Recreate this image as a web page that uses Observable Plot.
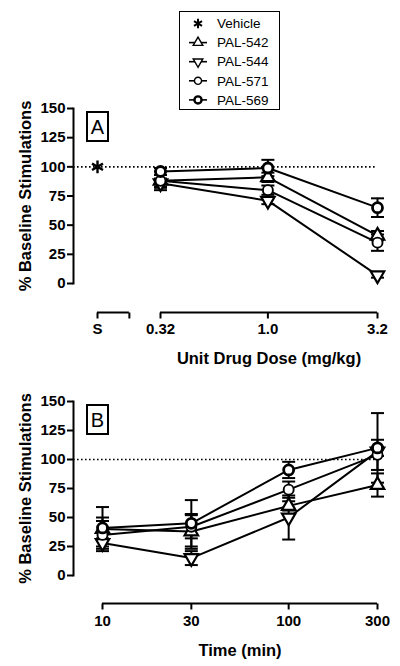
<!DOCTYPE html>
<html>
<head>
<meta charset="utf-8">
<script src="https://cdn.jsdelivr.net/npm/d3@7"></script>
<script src="https://cdn.jsdelivr.net/npm/@observablehq/plot@0.6"></script>
<style>
  body { margin: 0; background: #fff; }
  #wrap { position: relative; width: 400px; height: 666px; font-family: "Liberation Sans", Arial, sans-serif; color: #000; }
  #wrap > svg { position: absolute; left: 0; }
  .panel-label { position: absolute; left: 86px; width: 19px; height: 27px; border: 2px solid #000;
    font-size: 20px; line-height: 28px; text-align: center; background: #fff; }
  #legend { position: absolute; left: 179px; top: 11px; width: 99px; height: 97px; border: 1.5px solid #000; background: #fff; }
  #legend svg { display: block; }
</style>
</head>
<body>
<div id="wrap">
  <div id="legend"></div>
</div>
<script>
// ---------------- data ----------------
const seriesNames = ["PAL-542", "PAL-544", "PAL-571", "PAL-569"];
const yTicks = [0, 25, 50, 75, 100, 125, 150];
const yTitle = "% Baseline Stimulations";
const baseline = 100;

// Panel A: unit drug dose
const doses = [0.32, 1.0, 3.2];
const doseLabels = ["0.32", "1.0", "3.2"];
const vehicleLabel = "S";
const vehicleAxisPos = 0.164;     // where the "S" tick sits on the dose axis
const vehicleSegmentEnd = 0.23;   // end of the short "S" axis segment
const vehicleMean = 100;
const doseTitle = "Unit Drug Dose (mg/kg)";

const doseMean542 = [88, 91, 41];
const doseErr542  = [8, 4, 4];
const doseMean544 = [86, 71, 7];
const doseErr544  = [4, 3, 2];
const doseMean571 = [88, 80, 35];
const doseErr571  = [5, 4, 7];
const doseMean569 = [96, 99, 65];
const doseErr569  = [3, 7, 8];

// Panel B: time course
const times = [10, 30, 100, 300];
const timeLabels = ["10", "30", "100", "300"];
const timeTitle = "Time (min)";

const timeMean542 = [40, 38, 60, 78];
const timeErr542  = [19, 15, 4, 10];
const timeMean544 = [28, 15, 50, 107];
const timeErr544  = [3, 6, 19, 4];
const timeMean571 = [35, 42, 74, 104];
const timeErr571  = [12, 10, 7, 13];
const timeMean569 = [41, 45, 91, 110];
const timeErr569  = [9, 20, 7, 30];

// ---------------- styles ----------------
const seriesStyle = {
  "PAL-542": {symbol: "triangle", rotate: 0,   r: 5, sw: 2.2},
  "PAL-544": {symbol: "triangle", rotate: 180, r: 5, sw: 2.2},
  "PAL-571": {symbol: "circle",   rotate: 0,   r: 5, sw: 1.9},
  "PAL-569": {symbol: "circle",   rotate: 0,   r: 5, sw: 2.8}
};
const capSymbol = {draw(ctx, size) { const h = Math.sqrt(size / Math.PI); ctx.moveTo(-h, 0); ctx.lineTo(h, 0); }};
const tickDownSymbol = {draw(ctx, size) { const h = Math.sqrt(size / Math.PI); ctx.moveTo(0, 0); ctx.lineTo(0, h); }};
const FONT = '"Liberation Sans", Arial, sans-serif';

function rowsOf(xs, means, errs) {
  return xs.map((x, i) => ({x, v: means[i], e: errs[i]}));
}

const doseData = {
  "PAL-542": rowsOf(doses, doseMean542, doseErr542),
  "PAL-544": rowsOf(doses, doseMean544, doseErr544),
  "PAL-571": rowsOf(doses, doseMean571, doseErr571),
  "PAL-569": rowsOf(doses, doseMean569, doseErr569)
};
const timeData = {
  "PAL-542": rowsOf(times, timeMean542, timeErr542),
  "PAL-544": rowsOf(times, timeMean544, timeErr544),
  "PAL-571": rowsOf(times, timeMean571, timeErr571),
  "PAL-569": rowsOf(times, timeMean569, timeErr569)
};

function seriesMarks(data) {
  const marks = [];
  for (const name of seriesNames) {
    marks.push(Plot.line(data[name], {x: "x", y: "v", stroke: "black", strokeWidth: 2}));
  }
  for (const name of seriesNames) {
    const rows = data[name];
    marks.push(Plot.ruleX(rows, {x: "x", y1: d => d.v - d.e, y2: d => d.v + d.e, stroke: "black", strokeWidth: 2}));
    const caps = rows.flatMap(d => [{x: d.x, y: d.v - d.e}, {x: d.x, y: d.v + d.e}]);
    marks.push(Plot.dot(caps, {x: "x", y: "y", symbol: capSymbol, r: 6.5, stroke: "black", strokeWidth: 2, fill: "none"}));
  }
  for (const name of seriesNames) {
    const s = seriesStyle[name];
    marks.push(Plot.dot(data[name], {x: "x", y: "v", symbol: s.symbol, rotate: s.rotate, r: s.r,
      fill: "white", stroke: "black", strokeWidth: s.sw}));
  }
  return marks;
}

function panel({height, marginTop, marginBottom, xDomain, xRange, tickValues, tickLabels, tickMarks, segments, xTitle, axisOffset, data, extra = []}) {
  const labelOf = new Map(tickValues.map((t, i) => [t, tickLabels[i]]));
  const mid = Math.sqrt(xDomain[0] * xDomain[1]);
  return Plot.plot({
    width: 400, height, marginTop, marginBottom, marginLeft: 73, marginRight: 23,
    style: {fontFamily: FONT, background: "transparent", color: "black", overflow: "visible"},
    x: {type: "log", domain: xDomain, range: xRange},
    y: {domain: [0, 150]},
    marks: [
      Plot.ruleY([baseline], {stroke: "black", strokeWidth: 1.6, strokeDasharray: "1.6,2.4"}),
      Plot.frame({anchor: "left", stroke: "black", strokeWidth: 2}),
      Plot.axisY({ticks: yTicks, tickSize: 6, tickPadding: 2, strokeWidth: 2, fontSize: 15, fontWeight: "bold", label: null}),
      Plot.text([yTitle], {frameAnchor: "left", textAnchor: "middle", lineAnchor: "middle", rotate: -90, dx: -48, fontSize: 16.5, fontWeight: "bold"}),
      Plot.ruleY(segments, {x1: d => d[0], x2: d => d[1], y: 0, dy: axisOffset, stroke: "black", strokeWidth: 2}),
      Plot.dot(tickMarks, {x: d => d, y: 0, dy: axisOffset, symbol: tickDownSymbol, r: 6, stroke: "black", strokeWidth: 2, fill: "none"}),
      Plot.axisX({ticks: tickValues, tickFormat: d => labelOf.get(d), tickSize: 0, tickPadding: 40, fontSize: 15, fontWeight: "bold", label: null}),
      Plot.text([xTitle], {x: mid, frameAnchor: "bottom", textAnchor: "middle", lineAnchor: "middle", dy: 75, fontSize: 16.5, fontWeight: "bold"}),
      ...extra,
      ...seriesMarks(data)
    ]
  });
}

const wrap = document.getElementById("wrap");

// Panel A
const svgA = panel({
  height: 380, marginTop: 108, marginBottom: 97,
  xDomain: [doses[0], doses[doses.length - 1]], xRange: [160, 377],
  tickValues: [vehicleAxisPos, ...doses], tickLabels: [vehicleLabel, ...doseLabels],
  tickMarks: [vehicleAxisPos, vehicleSegmentEnd, ...doses],
  segments: [[vehicleAxisPos, vehicleSegmentEnd], [doses[0], doses[doses.length - 1]]],
  xTitle: doseTitle, axisOffset: 29, data: doseData,
  extra: [Plot.dot([vehicleMean], {x: vehicleAxisPos, y: d => d, symbol: "asterisk", r: 6, stroke: "black", strokeWidth: 2.4})]
});
svgA.style.top = "0px";
wrap.insertBefore(svgA, wrap.firstChild);

// Panel B
const svgB = panel({
  height: 286, marginTop: 21, marginBottom: 91,
  xDomain: [times[0], times[times.length - 1]], xRange: [102, 377],
  tickValues: times, tickLabels: timeLabels, tickMarks: times,
  segments: [[times[0], times[times.length - 1]]],
  xTitle: timeTitle, axisOffset: 28, data: timeData
});
svgB.style.top = "380px";
wrap.insertBefore(svgB, wrap.firstChild);

// Panel letters
for (const [letter, top] of [["A", 111], ["B", 404]]) {
  const d = document.createElement("div");
  d.className = "panel-label";
  d.style.top = top + "px";
  d.textContent = letter;
  wrap.appendChild(d);
}

// Legend
const legendRows = [
  {name: "Vehicle", type: d3.symbolAsterisk, rot: 0, sw: 2, line: false, size: 60},
  {name: "PAL-542", type: d3.symbolTriangle, rot: 0, sw: 1.4, line: true, size: 40},
  {name: "PAL-544", type: d3.symbolTriangle, rot: 180, sw: 1.4, line: true, size: 40},
  {name: "PAL-571", type: d3.symbolCircle, rot: 0, sw: 1.4, line: true, size: 40},
  {name: "PAL-569", type: d3.symbolCircle, rot: 0, sw: 2.4, line: true, size: 40}
];
const lg = d3.select("#legend").append("svg").attr("width", 99).attr("height", 97);
legendRows.forEach((r, i) => {
  const y = 11.5 + i * 19.1;
  const g = lg.append("g").attr("transform", `translate(0,${y})`);
  if (r.line) g.append("line").attr("x1", 9).attr("x2", 27).attr("stroke", "black").attr("stroke-width", 1.6);
  g.append("path").attr("d", d3.symbol(r.type, r.size)())
    .attr("transform", `translate(18,0) rotate(${r.rot})`)
    .attr("fill", r.type === d3.symbolAsterisk ? "none" : "white")
    .attr("stroke", "black").attr("stroke-width", r.sw);
  g.append("text").attr("x", 37).attr("dy", "0.35em").attr("font-size", 13.5)
    .attr("font-family", FONT).text(r.name);
});
</script>
</body>
</html>
